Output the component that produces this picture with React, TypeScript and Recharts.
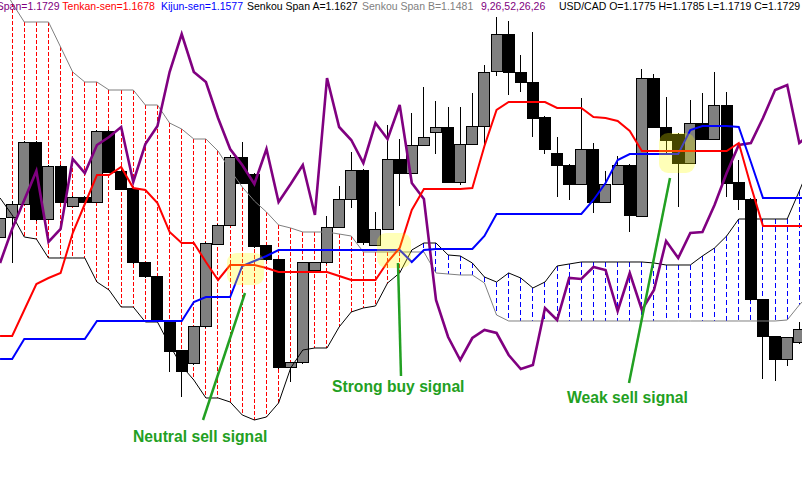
import React from 'react';
import { ComposedChart, Bar, Line, XAxis, YAxis } from 'recharts';

// bar index (category) : -1 .. 66
const barIndex: number[] = Array.from({ length: 68 }, (_, i) => i - 1);

const openP: (number | null)[] = [
  1.1763, 1.1783, 1.1796, 1.1858, 1.1781, 1.1834, 1.1794, 1.1803, 1.1798, 1.1869,
  1.1829, 1.1812, 1.1737, 1.1723, 1.1679, 1.1649, 1.1636, 1.1673, 1.1756, 1.1775,
  1.1843, 1.1826, 1.1754, 1.1740, 1.1632, 1.1637, 1.1729, 1.1737, 1.1773, 1.1801,
  1.1830, 1.1755, 1.1771, 1.1841, 1.1827, 1.1855, 1.1868, 1.1873, 1.1818, 1.1856,
  1.1874, 1.1929, 1.1966, 1.1928, 1.1918, 1.1883, 1.1847, 1.1835, 1.1816, 1.1851,
  1.1798, 1.1816, 1.1835, 1.1784, 1.1922, 1.1873, 1.1866, 1.1837, 1.1877, 1.1861,
  1.1895, 1.1818, 1.1801, 1.1700, 1.1663, 1.1640, 1.1657, null,
];
const closeP: (number | null)[] = [
  1.1782, 1.1796, 1.1858, 1.1781, 1.1834, 1.1798, 1.1803, 1.1798, 1.1869, 1.1828,
  1.1811, 1.1737, 1.1723, 1.1679, 1.1648, 1.1628, 1.1673, 1.1757, 1.1775, 1.1843,
  1.1817, 1.1753, 1.1740, 1.1632, 1.1637, 1.1737, 1.1737, 1.1773, 1.1801, 1.1830,
  1.1758, 1.1771, 1.1841, 1.1827, 1.1855, 1.1863, 1.1873, 1.1818, 1.1856, 1.1874,
  1.1928, 1.1966, 1.1928, 1.1918, 1.1882, 1.1851, 1.1835, 1.1816, 1.1851, 1.1798,
  1.1816, 1.1835, 1.1785, 1.1922, 1.1873, 1.1860, 1.1837, 1.1877, 1.1861, 1.1895,
  1.1817, 1.1801, 1.1700, 1.1663, 1.1640, 1.1662, 1.1670, null,
];
const highP: (number | null)[] = [
  1.1785, 1.1799, 1.1859, 1.1859, 1.1835, 1.1835, 1.1804, 1.1804, 1.1870, 1.1870,
  1.1830, 1.1813, 1.1738, 1.1724, 1.1680, 1.1650, 1.1674, 1.1758, 1.1776, 1.1845,
  1.1858, 1.1827, 1.1755, 1.1741, 1.1638, 1.1738, 1.1738, 1.1784, 1.1814, 1.1848,
  1.1831, 1.1788, 1.1875, 1.1861, 1.1887, 1.1913, 1.1899, 1.1893, 1.1893, 1.1907,
  1.1935, 1.1983, 1.1979, 1.1945, 1.1968, 1.1884, 1.1863, 1.1836, 1.1902, 1.1857,
  1.1829, 1.1844, 1.1836, 1.1931, 1.1926, 1.1903, 1.1867, 1.1900, 1.1907, 1.1928,
  1.1908, 1.1840, 1.1802, 1.1701, 1.1664, 1.1663, 1.1678, null,
];
const lowP: (number | null)[] = [
  1.1760, 1.1737, 1.1795, 1.1779, 1.1780, 1.1797, 1.1793, 1.1797, 1.1797, 1.1827,
  1.1810, 1.1736, 1.1722, 1.1678, 1.1628, 1.1603, 1.1635, 1.1672, 1.1755, 1.1774,
  1.1816, 1.1752, 1.1739, 1.1631, 1.1618, 1.1636, 1.1728, 1.1736, 1.1772, 1.1792,
  1.1755, 1.1754, 1.1770, 1.1794, 1.1826, 1.1854, 1.1846, 1.1817, 1.1815, 1.1855,
  1.1854, 1.1924, 1.1905, 1.1908, 1.1863, 1.1846, 1.1803, 1.1800, 1.1815, 1.1787,
  1.1797, 1.1815, 1.1768, 1.1783, 1.1872, 1.1847, 1.1793, 1.1836, 1.1860, 1.1860,
  1.1803, 1.1790, 1.1699, 1.1621, 1.1619, 1.1634, 1.1656, null,
];
const tenkanSen: number[] = [
  1.1664, 1.1664, 1.1690, 1.1716, 1.1722, 1.1727, 1.1767, 1.1796, 1.1825, 1.1825,
  1.1833, 1.1812, 1.1810, 1.1797, 1.1768, 1.1757, 1.1757, 1.1738, 1.1720, 1.1735,
  1.1735, 1.1735, 1.1732, 1.1728, 1.1728, 1.1728, 1.1728, 1.1728, 1.1724, 1.1720,
  1.1720, 1.1720, 1.1738, 1.1752, 1.1790, 1.1811, 1.1811, 1.1811, 1.1811, 1.1812,
  1.1854, 1.1890, 1.1898, 1.1898, 1.1898, 1.1898, 1.1892, 1.1892, 1.1892, 1.1883,
  1.1882, 1.1879, 1.1869, 1.1849, 1.1849, 1.1849, 1.1849, 1.1849, 1.1849, 1.1849,
  1.1849, 1.1857, 1.1814, 1.1774, 1.1774, 1.1774, 1.1774, 1.1774,
];
const kijunSen: number[] = [
  1.1641, 1.1641, 1.1661, 1.1661, 1.1661, 1.1661, 1.1661, 1.1661, 1.1679, 1.1679,
  1.1679, 1.1679, 1.1679, 1.1679, 1.1679, 1.1679, 1.1698, 1.1703, 1.1703, 1.1703,
  1.1734, 1.1739, 1.1744, 1.1750, 1.1750, 1.1750, 1.1750, 1.1750, 1.1750, 1.1750,
  1.1750, 1.1750, 1.1750, 1.1750, 1.1738, 1.1750, 1.1751, 1.1751, 1.1751, 1.1751,
  1.1764, 1.1786, 1.1786, 1.1786, 1.1786, 1.1786, 1.1786, 1.1786, 1.1786, 1.1800,
  1.1817, 1.1840, 1.1846, 1.1846, 1.1846, 1.1846, 1.1846, 1.1870, 1.1874, 1.1874,
  1.1874, 1.1873, 1.1838, 1.1802, 1.1802, 1.1802, 1.1802, 1.1802,
];
const chikouSpan: number[] = [
  1.1737, 1.1771, 1.1800, 1.1829, 1.1758, 1.1771, 1.1841, 1.1827, 1.1855, 1.1863,
  1.1873, 1.1818, 1.1856, 1.1874, 1.1928, 1.1966, 1.1928, 1.1918, 1.1882, 1.1851,
  1.1835, 1.1816, 1.1851, 1.1798, 1.1816, 1.1835, 1.1785, 1.1922, 1.1873, 1.1860,
  1.1837, 1.1877, 1.1861, 1.1895, 1.1817, 1.1801, 1.1700, 1.1663, 1.1640, 1.1662,
  1.1670, 1.1667, 1.1645, 1.1631, 1.1635, 1.1692, 1.1680, 1.1722, 1.1721, 1.1733,
  1.1730, 1.1689, 1.1727, 1.1690, 1.1710, 1.1759, 1.1742, 1.1767, 1.1768, 1.1795,
  1.1827, 1.1855, 1.1857, 1.1882, 1.1910, 1.1915, 1.1857, 1.1867,
];
const senkouA: number[] = [
  1.1802, 1.1785, 1.1763, 1.1761, 1.1742, 1.1742, 1.1742, 1.1742, 1.1718, 1.1710,
  1.1693, 1.1693, 1.1678, 1.1678, 1.1655, 1.1634, 1.1620, 1.1602, 1.1602, 1.1598,
  1.1585, 1.1580, 1.1583, 1.1597, 1.1632, 1.1650, 1.1652, 1.1652, 1.1673, 1.1688,
  1.1692, 1.1694, 1.1717, 1.1727, 1.1750, 1.1757, 1.1757, 1.1745, 1.1744, 1.1737,
  1.1723, 1.1718, 1.1727, 1.1722, 1.1712, 1.1718, 1.1734, 1.1736, 1.1738, 1.1738,
  1.1738, 1.1738, 1.1738, 1.1738, 1.1737, 1.1735, 1.1735, 1.1735, 1.1744, 1.1752,
  1.1764, 1.1781, 1.1781, 1.1781, 1.1781, 1.1781, 1.1809, 1.1838,
];
const senkouB: number[] = [
  1.2018, 1.1997, 1.1978, 1.1978, 1.1978, 1.1953, 1.1928, 1.1918, 1.1918, 1.1910,
  1.1910, 1.1910, 1.1895, 1.1895, 1.1877, 1.1871, 1.1861, 1.1861, 1.1849, 1.1830,
  1.1813, 1.1799, 1.1788, 1.1775, 1.1772, 1.1768, 1.1768, 1.1768, 1.1766, 1.1764,
  1.1748, 1.1748, 1.1748, 1.1748, 1.1748, 1.1748, 1.1727, 1.1726, 1.1725, 1.1725,
  1.1717, 1.1685, 1.1679, 1.1679, 1.1679, 1.1679, 1.1679, 1.1679, 1.1679, 1.1679,
  1.1679, 1.1679, 1.1679, 1.1679, 1.1679, 1.1679, 1.1679, 1.1679, 1.1679, 1.1679,
  1.1679, 1.1679, 1.1679, 1.1679, 1.1679, 1.1680, 1.1695, 1.1708,
];

const headerLabels = [
  { text: 'Chikou Span=1.1729', color: '#800080', x: 59.5, anchor: 'end' },
  { text: 'Tenkan-sen=1.1678', color: '#ff0000', x: 62.3, anchor: 'start' },
  { text: 'Kijun-sen=1.1577', color: '#0000ff', x: 161, anchor: 'start' },
  { text: 'Senkou Span A=1.1627', color: '#000000', x: 247, anchor: 'start' },
  { text: 'Senkou Span B=1.1481', color: '#808080', x: 362, anchor: 'start' },
  { text: '9,26,52,26,26', color: '#800080', x: 481, anchor: 'start' },
  { text: 'USD/CAD O=1.1775 H=1.1785 L=1.1719 C=1.1729', color: '#000000', x: 559, anchor: 'start' },
];

const signalLabels = [
  { text: 'Neutral sell signal', x: 133, y: 442 },
  { text: 'Strong buy signal', x: 332, y: 392 },
  { text: 'Weak sell signal', x: 567, y: 402.5 },
];

const data = barIndex.map((j, i) => ({
  j,
  open: openP[i],
  high: highP[i],
  low: lowP[i],
  close: closeP[i],
  tenkan: tenkanSen[i],
  kijun: kijunSen[i],
  chikou: chikouSpan[i],
  spanA: senkouA[i],
  spanB: senkouB[i],
}));

const W = 802;
const H = 491;
const BAND = 12.11;
const CHART_W = barIndex.length * BAND;
const CHART_LEFT = -6.455;
const GREEN = '#22a022';

// One ranged bar per period covering candle + cloud; positions derived from the bar's own scaled extent.
const PeriodShape = (props: any) => {
  const { x, y, width, height, payload } = props;
  if (!payload) return null;
  const top = Math.min(y, y + height);
  const h = Math.abs(height);
  const vals = [payload.high, payload.low, payload.spanA, payload.spanB].filter((v: any) => v != null) as number[];
  const vMax = Math.max(...vals);
  const vMin = Math.min(...vals);
  if (vMax === vMin) return null;
  const toY = (v: number) => top + ((vMax - v) / (vMax - vMin)) * h;
  const cx = x + width / 2;
  const a = payload.spanA;
  const b = payload.spanB;
  const red = b > a;
  const hatch = (
    <line
      x1={cx}
      x2={cx}
      y1={toY(Math.max(a, b))}
      y2={toY(Math.min(a, b))}
      stroke={red ? '#ff0000' : '#0000ff'}
      strokeWidth={1}
      strokeDasharray={red ? '4 2' : '5 3'}
      shapeRendering="crispEdges"
    />
  );
  if (payload.open == null) return <g>{hatch}</g>;
  const { open, close, high, low } = payload;
  const yo = toY(open);
  const yc = toY(close);
  const up = close >= open;
  const bTop = Math.min(yo, yc);
  const bH = Math.max(Math.abs(yc - yo), 1);
  return (
    <g>
      {hatch}
      <line x1={cx} x2={cx} y1={toY(high)} y2={toY(low)} stroke="#000" strokeWidth={1} shapeRendering="crispEdges" />
      <rect x={cx - 5.5} y={bTop} width={11} height={bH} fill={up ? '#808080' : '#000000'} stroke="#000" strokeWidth={1} shapeRendering="crispEdges" />
    </g>
  );
};

const rangeOf = (d: any) => {
  const vals = [d.high, d.low, d.spanA, d.spanB].filter((v: any) => v != null) as number[];
  return [Math.min(...vals), Math.max(...vals)];
};

export default function App() {
  return (
    <div style={{ position: 'absolute', left: 0, top: 0, width: W, height: H, overflow: 'hidden', background: '#fff' }}>
      <div style={{ position: 'absolute', left: CHART_LEFT, top: 0, pointerEvents: 'none' }}>
        <ComposedChart width={CHART_W} height={H} data={data} margin={{ top: 0, right: 0, bottom: 0, left: 0 }}>
          <XAxis dataKey="j" type="category" hide />
          <YAxis type="number" domain={[1.1509, 1.2]} allowDataOverflow hide />
          <Bar dataKey={rangeOf} barSize={12} shape={<PeriodShape />} activeBar={false} isAnimationActive={false} />
          <Line dataKey="spanB" type="linear" stroke="#808080" strokeWidth={1} dot={false} activeDot={false} isAnimationActive={false} />
          <Line dataKey="spanA" type="linear" stroke="#000000" strokeWidth={1} dot={false} activeDot={false} isAnimationActive={false} />
          <Line dataKey="chikou" type="linear" stroke="#800080" strokeWidth={2.6} dot={false} activeDot={false} isAnimationActive={false} />
          <Line dataKey="kijun" type="linear" stroke="#0000ff" strokeWidth={2} dot={false} activeDot={false} isAnimationActive={false} />
          <Line dataKey="tenkan" type="linear" stroke="#ff0000" strokeWidth={2} dot={false} activeDot={false} isAnimationActive={false} />
        </ComposedChart>
      </div>
      <svg width={W} height={H} style={{ position: 'absolute', left: 0, top: 0, pointerEvents: 'none' }}>
        {headerLabels.map((l) => (
          <text key={l.text} x={l.x} y={10.3} fill={l.color} fontSize={10.5} fontFamily="'Liberation Sans', Arial, sans-serif" textAnchor={l.anchor as any}>
            {l.text}
          </text>
        ))}
        <rect x={227} y={253} width={37} height={32} rx={9} fill="#ffff00" fillOpacity={0.28} />
        <rect x={377} y={233} width={34} height={35} rx={9} fill="#ffff00" fillOpacity={0.28} />
        <rect x={659} y={133} width={36} height={40} rx={9} fill="#ffff00" fillOpacity={0.28} />
        <line x1={203} y1={420} x2={245} y2={293} stroke={GREEN} strokeWidth={2.5} />
        <line x1={398} y1={263} x2={401} y2={376} stroke={GREEN} strokeWidth={2.5} />
        <line x1={670} y1={178} x2={629} y2={383} stroke={GREEN} strokeWidth={2.5} />
        {signalLabels.map((s) => (
          <text key={s.text} x={s.x} y={s.y} fill={GREEN} fontSize={15.7} fontWeight="bold" fontFamily="'Liberation Sans', Arial, sans-serif">
            {s.text}
          </text>
        ))}
      </svg>
    </div>
  );
}
